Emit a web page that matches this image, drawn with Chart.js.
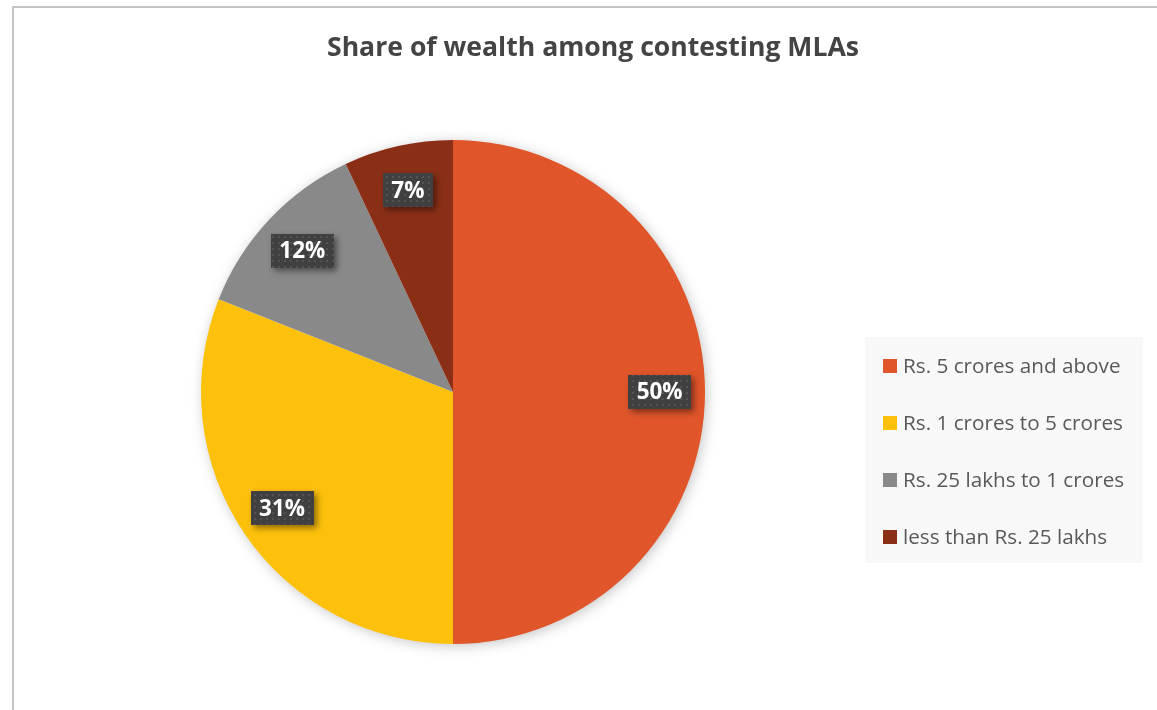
<!DOCTYPE html>
<html>
<head>
<meta charset="utf-8">
<script src="https://cdn.jsdelivr.net/npm/chart.js@4"></script>
<style>
  html, body { margin: 0; padding: 0; background: #fff; }
  #wrap { position: relative; width: 1157px; height: 710px; }
  #frame { position: absolute; left: 12px; top: 6px; right: 0; bottom: 0;
           border-top: 2px solid #c4c4c4; border-left: 2px solid #c4c4c4; pointer-events: none; }
  canvas { position: absolute; left: 0; top: 0; }
</style>
</head>
<body>
<div id="wrap">
  <canvas id="chart" width="1157" height="710"></canvas>
  <div id="frame"></div>
</div>
<script>
// données du graphique
const categories = ['Rs. 5 crores and above', 'Rs. 1 crores to 5 crores', 'Rs. 25 lakhs to 1 crores', 'less than Rs. 25 lakhs'];
const shares = [50, 31, 12, 7];
const sliceColors = ['#E0552A', '#FDC10B', '#898989', '#8A2F16'];
const chartTitle = 'Share of wealth among contesting MLAs';

const FONT = '"Open Sans", "Lato", sans-serif';

// taille de police pour qu'un texte occupe la largeur voulue
function fitFont(ctx, weight, text, target) {
    ctx.font = weight + ' 20px ' + FONT;
    const size = 20 * target / ctx.measureText(text).width;
    return weight + ' ' + size.toFixed(1) + 'px ' + FONT;
}

// motif à points pour les étiquettes
function dotPattern(ctx) {
    const c = document.createElement('canvas');
    c.width = 6; c.height = 6;
    const p = c.getContext('2d');
    p.fillStyle = '#404040';
    p.fillRect(0, 0, 6, 6);
    p.fillStyle = '#535353';
    p.fillRect(2, 2, 2, 2);
    return ctx.createPattern(c, 'repeat');
}

const decorPlugin = {
    id: 'decor',
    beforeDatasetsDraw(chart) {
        // ombre douce sous le camembert
        const ctx = chart.ctx;
        const arc = chart.getDatasetMeta(0).data[0];
        if (!arc) return;
        ctx.save();
        ctx.shadowColor = 'rgba(0,0,0,0.25)';
        ctx.shadowBlur = 14;
        ctx.shadowOffsetX = 2;
        ctx.shadowOffsetY = 2;
        ctx.fillStyle = '#fff';
        ctx.beginPath();
        ctx.arc(arc.x, arc.y, arc.outerRadius - 1, 0, Math.PI * 2);
        ctx.fill();
        ctx.restore();
    },
    afterDraw(chart) {
        const ctx = chart.ctx;
        ctx.save();

        // titre
        ctx.fillStyle = '#444444';
        ctx.font = fitFont(ctx, 'bold', chartTitle, 532);
        ctx.textAlign = 'center';
        ctx.textBaseline = 'middle';
        ctx.fillText(chartTitle, 593, 48);

        // étiquettes de pourcentage
        const pattern = dotPattern(ctx);
        const meta = chart.getDatasetMeta(0);
        ctx.font = fitFont(ctx, 'bold', '50%', 46);
        meta.data.forEach((arc, i) => {
            const mid = (arc.startAngle + arc.endAngle) / 2;
            const r = arc.outerRadius * 0.82;
            const x = arc.x + Math.cos(mid) * r;
            const y = arc.y + Math.sin(mid) * r;
            const txt = shares[i] + '%';
            const w = ctx.measureText(txt).width + 17;
            const h = 34;
            ctx.save();
            ctx.shadowColor = 'rgba(0,0,0,0.45)';
            ctx.shadowBlur = 6;
            ctx.shadowOffsetX = 3;
            ctx.shadowOffsetY = 3;
            ctx.fillStyle = pattern;
            ctx.fillRect(Math.round(x - w / 2), Math.round(y - h / 2), Math.round(w), h);
            ctx.restore();
            ctx.fillStyle = '#ffffff';
            ctx.fillText(txt, x, y + 1);
        });

        // légende
        ctx.fillStyle = '#f8f8f8';
        ctx.fillRect(865, 337, 278, 226);
        ctx.font = fitFont(ctx, 'normal', categories[0], 218);
        ctx.textAlign = 'left';
        categories.forEach((label, i) => {
            const y = 366 + i * 57;
            ctx.fillStyle = sliceColors[i];
            ctx.fillRect(883, y - 7, 14, 14);
            ctx.fillStyle = '#595959';
            ctx.fillText(label, 903, y + 1);
        });
        ctx.restore();
    }
};

new Chart(document.getElementById('chart'), {
    type: 'pie',
    data: {
        labels: categories,
        datasets: [{
            data: shares,
            backgroundColor: sliceColors,
            borderWidth: 0
        }]
    },
    options: {
        responsive: false,
        animation: false,
        layout: { padding: { left: 201, right: 452, top: 140, bottom: 66 } },
        plugins: {
            legend: { display: false },
            title: { display: false },
            tooltip: { enabled: false }
        }
    },
    plugins: [decorPlugin]
});
</script>
</body>
</html>
